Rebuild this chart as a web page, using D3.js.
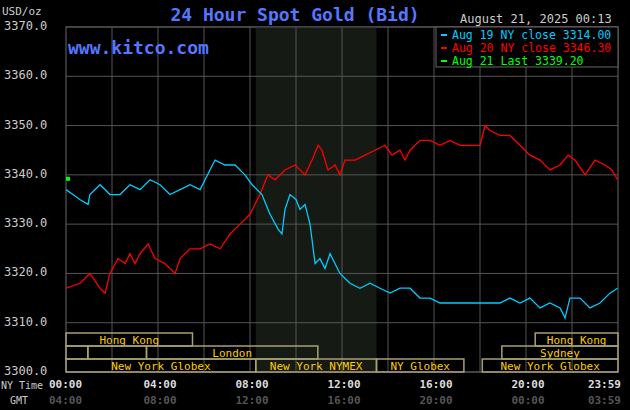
<!DOCTYPE html><html><head><meta charset="utf-8"><script src="https://cdn.jsdelivr.net/npm/d3@7"></script>
<style>body{margin:0;background:#000}svg{display:block}text{font-family:"DejaVu Sans Mono",monospace}</style></head><body><svg id="c" width="630" height="410"></svg><script>
const aug19 = [[0,3337],[0.3,3336],[0.6,3335],[0.96,3334],[1.04,3336],[1.48,3338],[1.91,3336],[2.35,3336],[2.78,3338],[3.22,3337],[3.65,3339],[4.09,3338],[4.52,3336],[4.96,3337],[5.39,3338],[5.83,3337],[6.26,3341],[6.48,3343],[6.91,3342],[7.35,3342],[7.78,3340],[8.09,3338],[8.52,3336],[8.87,3332],[9.22,3329],[9.39,3328],[9.52,3333],[9.74,3336],[10.0,3335],[10.17,3333],[10.39,3334],[10.61,3330],[10.83,3322],[11.04,3323],[11.26,3321],[11.48,3324],[11.91,3320],[12.35,3318],[12.78,3317],[13.22,3318],[13.65,3317],[14.09,3316],[14.52,3317],[14.96,3317],[15.39,3315],[15.83,3315],[16.26,3314],[16.7,3314],[17.13,3314],[17.57,3314],[18.0,3314],[18.87,3314],[19.3,3315],[19.74,3314],[20.17,3315],[20.61,3313],[21.04,3314],[21.48,3313],[21.7,3311],[21.91,3315],[22.35,3315],[22.78,3313],[23.22,3314],[23.65,3316],[23.98,3317]];
const aug20 = [[0,3317],[0.61,3318],[1.04,3320],[1.48,3317],[1.7,3316],[1.91,3320],[2.26,3323],[2.57,3322],[2.78,3324],[3.0,3322],[3.22,3324],[3.57,3326],[3.87,3323],[4.3,3322],[4.74,3320],[4.96,3323],[5.39,3325],[5.83,3325],[6.26,3326],[6.7,3325],[7.13,3328],[7.57,3330],[8.0,3332],[8.43,3336],[8.78,3340],[9.09,3339],[9.52,3341],[9.96,3342],[10.39,3340],[10.7,3343],[10.96,3346],[11.13,3345],[11.39,3341],[11.7,3342],[11.91,3340],[12.13,3343],[12.57,3343],[13.0,3344],[13.43,3345],[13.87,3346],[14.17,3344],[14.52,3345],[14.74,3343],[14.96,3345],[15.39,3347],[15.83,3347],[16.26,3346],[16.7,3347],[17.13,3346],[17.57,3346],[18.0,3346],[18.22,3350],[18.43,3349],[18.87,3348],[19.3,3348],[19.74,3346],[20.17,3344],[20.61,3343],[21.04,3341],[21.48,3342],[21.83,3344],[22.13,3343],[22.57,3340],[23.0,3343],[23.43,3342],[23.74,3341],[23.98,3339]];
const aug21 = [[0,3339.2]];
const yTicks = [3300,3310,3320,3330,3340,3350,3360,3370];
const nyTicks = [0,4,8,12,16,20,23.983];
const nyLabels = ["00:00","04:00","08:00","12:00","16:00","20:00","23:59"];
const gmtLabels = ["04:00","08:00","12:00","16:00","20:00","00:00","03:59"];
const legend = [["Aug 19 NY close 3314.00","#00ccff"],["Aug 20 NY close 3346.30","#ff0000"],["Aug 21 Last 3339.20","#00ff00"]];
const sessions = [ // [row, start h, end h, label]
 [0,0,5.5,"Hong Kong"],[0,20.4,24,"Hong Kong"],
 [1,0,0.95,""],[1,0.95,3.5,""],[1,3.5,10.95,"London"],[1,18.95,24,"Sydney"],
 [2,0,8.25,"New York Globex"],[2,8.25,13.5,"New York NYMEX"],[2,13.5,17.3,"NY Globex"],[2,18.1,24,"New York Globex"]];
const nymex = [8.25,13.5];

const svg = d3.select("#c");
const x = d3.scaleLinear().domain([0,24]).range([66,618]);
const y = d3.scaleLinear().domain([3300,3370]).range([372,27]);
svg.append("rect").attr("x",66).attr("y",27).attr("width",552).attr("height",345).attr("fill","#000").attr("stroke","#666");
svg.append("rect").attr("x",x(nymex[0])).attr("y",27).attr("width",x(nymex[1])-x(nymex[0])).attr("height",345).attr("fill","#161a14");
d3.range(2,24,2).forEach(h=>svg.append("line").attr("x1",x(h)).attr("x2",x(h)).attr("y1",27).attr("y2",372).attr("stroke","#555"));
yTicks.forEach(v=>{svg.append("line").attr("x1",66).attr("x2",618).attr("y1",y(v)).attr("y2",y(v)).attr("stroke","#555");
 svg.append("text").attr("x",4).attr("y",y(v)+3).attr("fill","#ccc").attr("font-size",12).text(v.toFixed(1));});
const rowY = [333,346,359];
sessions.forEach(s=>{svg.append("rect").attr("x",x(s[1])).attr("y",rowY[s[0]]).attr("width",x(s[2])-x(s[1])).attr("height",13).attr("fill","none").attr("stroke","#a8a070").attr("stroke-width",1.5);
 if(s[3]) svg.append("text").attr("x",(x(s[1])+x(s[2]))/2).attr("y",rowY[s[0]]+11).attr("text-anchor","middle").attr("fill","#ffcc00").attr("font-size",11).text(s[3]);});
const line = d3.line().x(d=>x(d[0])).y(d=>y(d[1]));
svg.append("path").datum(aug20).attr("d",line).attr("fill","none").attr("stroke","#ff0000").attr("stroke-width",1.3);
svg.append("path").datum(aug19).attr("d",line).attr("fill","none").attr("stroke","#00ccff").attr("stroke-width",1.3);
svg.selectAll(".g").data(aug21).join("rect").attr("x",d=>x(d[0])).attr("y",d=>y(d[1])-2).attr("width",4).attr("height",4).attr("fill","#00ff00");
nyTicks.forEach((h,i)=>{const last=i===nyTicks.length-1, first=i===0, xx=last?621:first?49:x(h)+2, an=last?"end":first?"start":"middle";
 svg.append("text").attr("x",xx).attr("y",388).attr("text-anchor",an).attr("fill","#ddd").attr("font-size",11).attr("font-weight","bold").text(nyLabels[i]);
 svg.append("text").attr("x",xx).attr("y",404).attr("text-anchor",an).attr("fill","#555").attr("font-size",11).attr("font-weight","bold").text(gmtLabels[i]);});
svg.append("text").attr("x",1).attr("y",389).attr("fill","#ccc").attr("font-size",10).attr("font-family","Liberation Sans Narrow,Arial").text("NY Time");
svg.append("text").attr("x",10).attr("y",404).attr("fill","#ccc").attr("font-size",10).attr("font-family","Liberation Sans Narrow,Arial").text("GMT");
svg.append("text").attr("x",2).attr("y",15).attr("fill","#ccc").attr("font-size",11).text("USD/oz");
svg.append("text").attr("x",295).attr("y",21).attr("text-anchor","middle").attr("fill","#5577ff").attr("font-size",18).attr("font-weight","bold").attr("font-family","Liberation Sans,Arial").text("24 Hour Spot Gold (Bid)");
svg.append("text").attr("x",68).attr("y",54).attr("fill","#5577ff").attr("font-size",18).attr("font-weight","bold").attr("font-family","Liberation Sans,Arial").text("www.kitco.com");
svg.append("text").attr("x",460).attr("y",23).attr("fill","#ccc").attr("font-size",12).text("August 21, 2025 00:13");
svg.append("rect").attr("x",436).attr("y",27).attr("width",182).attr("height",40).attr("fill","#000").attr("stroke","#666");
legend.forEach((l,i)=>{const yy=38+i*13;
 svg.append("line").attr("x1",441).attr("x2",447).attr("y1",yy-3).attr("y2",yy-3).attr("stroke",l[1]).attr("stroke-width",2);
 svg.append("text").attr("x",452).attr("y",yy+1).attr("fill",l[1]).attr("font-size",11.5).text(l[0]);});
</script></body></html>
